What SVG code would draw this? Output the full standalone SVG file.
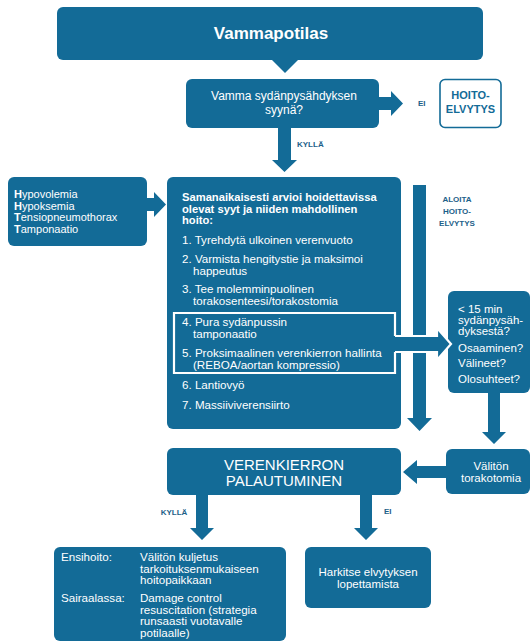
<svg xmlns="http://www.w3.org/2000/svg" width="530" height="642" viewBox="0 0 530 642">
<style>
.box{fill:#136b97}
.arr{fill:#136b97}
.t{font-family:"Liberation Sans",Arial,sans-serif;fill:#ffffff}
.c{text-anchor:middle}
.b{font-weight:bold}
.lbl{font-family:"Liberation Sans",Arial,sans-serif;font-weight:bold;font-size:8px;fill:#1d5f89}
.hl{fill:none;stroke:#ffffff;stroke-width:2.2}
</style>
<rect width="530" height="642" fill="#ffffff"/>

<g id="vammapotilas">
<rect class="box" x="57" y="7" width="426" height="53" rx="6"/>
<text class="t c b" x="271" y="39" font-size="17">Vammapotilas</text>
</g>

<g id="syy">
<rect class="box" x="186" y="79" width="193" height="49" rx="6"/>
<text class="t c" x="284" y="100" font-size="12">Vamma sydänpysähdyksen</text>
<text class="t c" x="284" y="114" font-size="12">syynä?</text>
</g>

<g id="hoitoelvytys">
<rect x="440" y="79.5" width="61" height="48" rx="5" fill="#ffffff" stroke="#136b97" stroke-width="1.6"/>
<text class="c b" x="470.5" y="99" font-size="11" font-family="Liberation Sans, Arial, sans-serif" fill="#136b97">HOITO-</text>
<text class="c b" x="470.5" y="113" font-size="11" font-family="Liberation Sans, Arial, sans-serif" fill="#136b97">ELVYTYS</text>
</g>

<g id="hhtt">
<rect class="box" x="8" y="177" width="139" height="69" rx="6"/>
<text class="t" x="14" y="198" font-size="11"><tspan class="b">H</tspan>ypovolemia</text>
<text class="t" x="14" y="209.5" font-size="11"><tspan class="b">H</tspan>ypoksemia</text>
<text class="t" x="14" y="221" font-size="11"><tspan class="b">T</tspan>ensiopneumothorax</text>
<text class="t" x="14" y="232.5" font-size="11"><tspan class="b">T</tspan>amponaatio</text>
</g>

<g id="hoito">
<rect class="box" x="167" y="177" width="234" height="252" rx="6"/>
<path class="hl" d="M395,336 V313 H174 V373 H395 V352"/>
<text class="t b" x="182" y="201" font-size="11.2">Samanaikaisesti arvioi hoidettavissa</text>
<text class="t b" x="182" y="212.5" font-size="11.2">olevat syyt ja niiden mahdollinen</text>
<text class="t b" x="182" y="224" font-size="11.2">hoito:</text>
<text class="t" x="182" y="244" font-size="11.6">1. Tyrehdytä ulkoinen verenvuoto</text>
<text class="t" x="182" y="263" font-size="11.6">2. Varmista hengitystie ja maksimoi</text>
<text class="t" x="193" y="274.5" font-size="11.6">happeutus</text>
<text class="t" x="182" y="293" font-size="11.6">3. Tee molemminpuolinen</text>
<text class="t" x="193" y="305" font-size="11.6">torakosenteesi/torakostomia</text>
<text class="t" x="182" y="326" font-size="11.6">4. Pura sydänpussin</text>
<text class="t" x="193" y="337.5" font-size="11.6">tamponaatio</text>
<text class="t" x="182" y="357" font-size="11.6">5. Proksimaalinen verenkierron hallinta</text>
<text class="t" x="193" y="369" font-size="11.6">(REBOA/aortan kompressio)</text>
<text class="t" x="182" y="389" font-size="11.6">6. Lantiovyö</text>
<text class="t" x="182" y="409" font-size="11.6">7. Massiiviverensiirto</text>
</g>

<g id="kysymykset">
<rect class="box" x="448" y="291" width="82" height="102" rx="6"/>
<text class="t" x="458" y="313" font-size="11.5">&lt; 15 min</text>
<text class="t" x="458" y="324" font-size="11.5">sydänpysäh-</text>
<text class="t" x="458" y="335" font-size="11.5">dyksestä?</text>
<text class="t" x="458" y="352" font-size="11.5">Osaaminen?</text>
<text class="t" x="458" y="367" font-size="11.5">Välineet?</text>
<text class="t" x="458" y="383" font-size="11.5">Olosuhteet?</text>
</g>

<g id="torakotomia">
<rect class="box" x="446" y="449" width="84" height="45" rx="6"/>
<text class="t c" x="491" y="470" font-size="11.5">Välitön</text>
<text class="t c" x="491" y="482" font-size="11.5">torakotomia</text>
</g>

<g id="palautuminen">
<rect class="box" x="167" y="448" width="234" height="47" rx="6"/>
<text class="t c" x="284" y="470" font-size="15">VERENKIERRON</text>
<text class="t c" x="284" y="486" font-size="15">PALAUTUMINEN</text>
</g>

<g id="jatkohoito">
<rect class="box" x="54" y="547" width="232" height="94" rx="6"/>
<text class="t" x="61" y="561" font-size="11.6">Ensihoito:</text>
<text class="t" x="140" y="561" font-size="11.6">Välitön kuljetus</text>
<text class="t" x="140" y="572.5" font-size="11.6">tarkoituksenmukaiseen</text>
<text class="t" x="140" y="584" font-size="11.6">hoitopaikkaan</text>
<text class="t" x="61" y="602" font-size="11.6">Sairaalassa:</text>
<text class="t" x="140" y="602" font-size="11.6">Damage control</text>
<text class="t" x="140" y="613.5" font-size="11.6">resuscitation (strategia</text>
<text class="t" x="140" y="625" font-size="11.6">runsaasti vuotavalle</text>
<text class="t" x="140" y="636.5" font-size="11.6">potilaalle)</text>
</g>

<g id="lopettaminen">
<rect class="box" x="305" y="547" width="126" height="61" rx="6"/>
<text class="t c" x="368" y="576" font-size="11.5">Harkitse elvytyksen</text>
<text class="t c" x="368" y="588" font-size="11.5">lopettamista</text>
</g>

<g id="connectors">
<polygon class="arr" points="271,59 299,59 285,73"/>
<polygon class="arr" points="378,97 391,97 391,91 403,103.5 391,116 391,110 378,110"/>
<text class="lbl" x="418" y="106">EI</text>
<polygon class="arr" points="278,127 291,127 291,160 297,160 284.5,172 272,160 278,160"/>
<text class="lbl" x="297" y="147">KYLLÄ</text>
<polygon class="arr" points="146,198 154,198 154,192 166,204.5 154,217 154,211 146,211"/>
<polygon class="arr" points="413,185 426,185 426,418 432,418 419.5,431 407,418 413,418"/>
<text class="lbl c" x="457" y="202" font-size="8.5">ALOITA</text>
<text class="lbl c" x="457" y="214" font-size="8.5">HOITO-</text>
<text class="lbl c" x="457" y="225.5" font-size="8.5">ELVYTYS</text>
<polygon class="arr" points="394,336 437,336 437,328 451,344 437,360 437,352 394,352"/>
<path class="hl" d="M395,336 H437 V328 L451,344 L437,360 V352 H395"/>
<polygon class="arr" points="488,392 500,392 500,432 506,432 494,444 482,432 488,432"/>
<polygon class="arr" points="447,466 417,466 417,460 403,472 417,484 417,478 447,478"/>
<polygon class="arr" points="196,494 208,494 208,528 214,528 202,540 190,528 196,528"/>
<text class="lbl c" x="174" y="515">KYLLÄ</text>
<polygon class="arr" points="360,494 372,494 372,528 378,528 366,540 354,528 360,528"/>
<text class="lbl" x="384" y="514">EI</text>
</g>
</svg>
